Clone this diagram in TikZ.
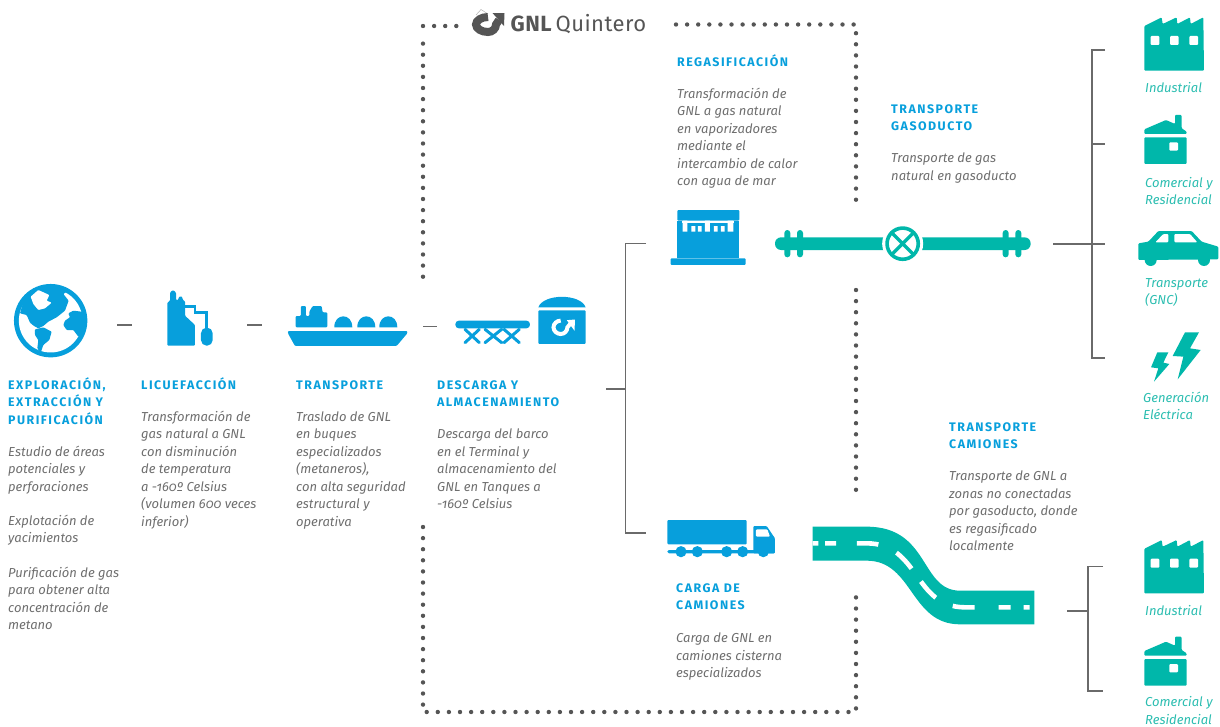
\documentclass[tikz,border=0pt]{standalone}
\usepackage{fontspec}
\setmainfont{Fira Sans}[Numbers=Lowercase]
\newfontfamily\ttlfont{Fira Sans}[LetterSpace=12,Numbers=Lowercase]
\newfontfamily\logofont{Fira Sans}[LetterSpace=2]
\definecolor{bl}{HTML}{079FDC}
\definecolor{te}{HTML}{00B7AA}
\definecolor{tg}{HTML}{2BBDB0}
\definecolor{gt}{HTML}{6E6E6E}
\definecolor{ln}{HTML}{6A6A6A}
\definecolor{dt}{HTML}{555555}
\newcommand\ls{\rule{0pt}{13pt}}
\tikzset{
 bodytext/.style={anchor=north west,inner sep=0pt,yshift=8pt,align=left,text=gt,
   font=\fontsize{13.0}{17.5}\selectfont\itshape},
 titletext/.style={anchor=north west,inner sep=0pt,yshift=8pt,align=left,text=bl,
   font=\fontsize{12.4}{17.5}\selectfont\ttlfont\bfseries},
 lbltext/.style={bodytext,text=tg},
 conn/.style={draw=ln,line width=1.1pt},
 dots/.style={draw=dt,line width=4.4pt,line cap=round,dash pattern=on 0pt off 11.1pt},
 blu/.style={fill=bl,rounded corners=1pt},
 tea/.style={fill=te,rounded corners=1pt},
 wht/.style={fill=white,rounded corners=1pt},
}
\begin{document}
\begin{tikzpicture}[x=1pt,y=-1pt]
\useasboundingbox (0,0) rectangle (1220,726);
% dotted frame
\draw[dots] (423,26) -- (457,26);
\draw[dots] (423,276.7) -- (423,43);
\draw[dots] (676,24.5) -- (856,24.5) -- (856,205);
\draw[dots] (856,290) -- (856,490);
\draw[dots] (423,527) -- (423,712) -- (856,712) -- (856,592.7);
% logo
\draw[draw=dt!45,line width=.5pt] (476,15) -- (481,9.5) -- (488,14);
\draw[dt,line width=8pt] (488,17) .. controls (481.4,17) and (476,20.4) .. (476,24.5)
  .. controls (476,28.6) and (481.4,32) .. (488,32)
  .. controls (492.4,32) and (496,28.6) .. (496,24.5) -- (499,20);
\fill[dt] (492.5,13) -- (504.5,13) -- (504,26) -- cycle;
\node[anchor=base west,inner sep=0pt,text=dt,font=\fontsize{22}{22}\selectfont\logofont\bfseries] (logoa) at (510.5,31) {GNL};
\node[anchor=base west,inner sep=0pt,text=dt,font=\fontsize{22}{22}\selectfont\logofont] (logob) at (555.5,31) {Quintero};
% globe
\begin{scope}[shift={(10,280)},x=.3333pt,y=-.3333pt]
\fill[bl] (122,122) circle[radius=36.7pt];
\fill[white] (122,122) circle[radius=31.8pt];
\fill[bl,rounded corners=.8pt] (30,100)--(50,105)--(60,128)--(72,138)--(85,145)--(100,138)--(115,125)--(140,112)--(165,92)--(176,62)--(160,42)--(178,30)--(120,15)--(70,25)--(40,65)--(30,100)--cycle;
\fill[white,rounded corners=.8pt] (62,50)--(85,30)--(118,45)--(110,62)--(125,68)--(105,85)--(85,90)--(70,72)--cycle;
\fill[bl,rounded corners=.8pt] (75,148)--(100,142)--(125,155)--(118,180)--(100,195)--(92,218)--(82,205)--(85,180)--(75,165)--cycle;
\fill[bl,rounded corners=.8pt] (165,122)--(180,112)--(175,100)--(190,92)--(215,95)--(228,115)--(225,150)--(205,170)--(190,150)--(170,150)--(160,135)--cycle;
\end{scope}
% liquefaction
\begin{scope}[shift={(160,285)},x=.3333pt,y=-.3333pt]
\draw[bl,line width=2.6pt] (70,65) -- (105,65) -- (105,82) -- (140,82) -- (140,130);
\fill[blu] (22,52)--(30,48)--(30,22)--(39,15)--(48,22)--(48,45)--(55,45)--(55,38)--(62,33)--(68,38)--(68,45)--(75,48)--(75,92)--(105,120)--(105,182)--(22,182)--cycle;
\fill[bl,rounded corners=5.5pt] (123,128) rectangle (158,182);
\end{scope}
% ship
\begin{scope}[shift={(0,270)},x=.3333pt,y=-.3333pt]
\fill[blu] (864,183)--(1222,183)--(1222,190)--(1190,228)--(885,228)--(864,190)--cycle;
\fill[blu] (887,138)--(903,138)--(903,108)--(918,108)--(918,138)--(928,138)--(928,125)--(938,108)--(965,108)--(968,127)--(982,127)--(982,172)--(887,172)--cycle;
\foreach \c in {1030,1099,1165}{
 \fill[bl] (\c-27,172) .. controls (\c-27,150) and (\c-14,139) .. (\c,139) .. controls (\c+14,139) and (\c+27,150) .. (\c+27,172) -- cycle;}
\end{scope}
% jetty and tank
\begin{scope}[shift={(420,200)},x=.3333pt,y=-.3333pt]
\draw[bl,line width=3pt,line cap=round] (135,428)--(178,388) (135,388)--(178,428)
 (195,428)--(245,388) (195,388)--(245,428) (252,428)--(298,388) (252,388)--(298,428);
\fill[bl,rounded corners=3.5pt] (106,362) rectangle (330,385);
\fill[bl] (355,322) .. controls (370,280) and (482,280) .. (497,322) -- cycle;
\fill[blu] (355,331) rectangle (497,432);
\end{scope}
\draw[white,line width=4pt] (560.7,320.6) .. controls (557,320.6) and (553.5,323.6) .. (553.5,327.3)
 .. controls (553.5,331) and (557,334) .. (560.7,334) .. controls (564.4,334) and (567.4,331) .. (567.4,327.3) -- (571,323);
\fill[white] (566.8,320.2)--(575,319.5)--(574.5,330.7)--cycle;
% regasification plant
\begin{scope}[shift={(420,200)},x=.3333pt,y=-.3333pt]
\fill[blu] (772,30) rectangle (958,62);
\fill[bl] (772,62) rectangle (958,175);
\fill[blu] (752,175) rectangle (977,195);
\fill[white] (785,62) rectangle (942,68);
\fill[white] (788,62) rectangle (802,95) (855,62) rectangle (870,95) (923,62) rectangle (940,95);
\fill[white] (814,78) rectangle (826,95) (834,78) rectangle (845,95) (882,78) rectangle (893,95) (903,78) rectangle (914,95);
\end{scope}
% pipeline
\begin{scope}[shift={(760,200)},x=.3333pt,y=-.3333pt]
\fill[te,rounded corners=6pt] (45,112) rectangle (812,150);
\foreach \f in {82,120,737,775}{\fill[te,rounded corners=3pt] (\f-9,90) rectangle (\f+9,172);}
\fill[white] (428,131) circle[radius=20.5pt];
\draw[te,line width=3.6pt] (428,131) circle[radius=15.6pt];
\draw[te,line width=3.3pt] (393,96)--(463,166) (393,166)--(463,96);
\end{scope}
% factory 1
\foreach \dy/\nm in {0/fa,522.7/fb}{
\begin{scope}[shift={(1080,\dy)},x=.3333pt,y=-.3333pt]
\fill[tea] (193,78)--(245,52)--(248,72)--(290,52)--(292,72)--(330,52)--(332,72)--(370,52)--(372,212)--(193,212)--cycle;
\foreach \w in {212,270,328}{\fill[wht] (\w,108) rectangle (\w+26,135);}
\end{scope}}
% house
\foreach \dy in {0,521.7}{
\begin{scope}[shift={(1080,\dy)},x=.3333pt,y=-.3333pt]
\fill[tea] (193,402)--(193,388)--(258,360)--(285,372)--(285,345)--(305,345)--(305,385)--(320,395)--(320,402)--cycle;
\fill[tea] (193,412) rectangle (320,492);
\fill[wht] (268,427) rectangle (294,452);
\end{scope}}
% car and bolts
\begin{scope}[shift={(1080,210)},x=.3333pt,y=-.3333pt]
\fill[tea] (175,100)--(205,95)--(235,63)--(335,63)--(365,95)--(415,110)--(415,148)--(175,150)--cycle;
\fill[te] (212,150) circle[radius=6pt] (372,150) circle[radius=6pt];
\fill[wht] (226,97)--(250,72)--(265,72)--(265,97)--cycle;
\fill[wht] (283,72)--(330,72)--(352,97)--(283,97)--cycle;
\fill[te] (315,367)--(357,367)--(330,415)--(362,420)--(293,508)--(310,440)--(278,438)--cycle;
\fill[te] (232,427)--(265,427)--(250,458)--(268,462)--(222,515)--(235,475)--(213,472)--cycle;
\end{scope}
% truck and road
\begin{scope}[shift={(650,500)},x=.3333pt,y=-.3333pt]
\fill[blu] (52,60) rectangle (290,133);
\fill[blu] (310,78)--(350,78)--(375,115)--(375,160)--(310,160)--cycle;
\fill[wht] (318,88)--(352,88)--(360,110)--(318,110)--cycle;
\fill[bl,rounded corners=1.5pt] (52,150) rectangle (375,160);
\foreach \w in {93,142,230,278,340}{\fill[bl] (\w,155) circle[radius=5.6pt];}
\fill[te] (488,80) -- (650,80) .. controls (840,80) and (810,272) .. (930,272) -- (1153,272) -- (1153,373) -- (930,373) .. controls (780,373) and (790,182) .. (650,182) -- (488,182) -- cycle;
\draw[white,line width=4.6pt,dash pattern=on 5.7pt off 6.7pt on 11pt off 20.7pt on 21.7pt off 20pt on 22pt off 16pt on 22pt off 19pt on 22pt off 24pt on 12pt off 13pt on 6pt off 100pt]
 (488,130) -- (650,130) .. controls (810,130) and (790,322) .. (945,322) -- (1153,322);
\end{scope}
% connectors
\coordinate (c1a) at (117,325); \coordinate (c1b) at (132,325);
\coordinate (c2a) at (247,325); \coordinate (c2b) at (262,325);
\coordinate (c3a) at (423,326.5); \coordinate (c3b) at (437,326.5);
\coordinate (bra) at (606,389); \coordinate (brm) at (625.5,389);
\coordinate (brt) at (646,243.5); \coordinate (brb) at (646,533);
\coordinate (gaa) at (1053,244); \coordinate (gam) at (1092,244); \coordinate (gab) at (1105,244);
\coordinate (gat) at (1105,50); \coordinate (gac) at (1105,144); \coordinate (gad) at (1105,358);
\coordinate (caa) at (1067,611); \coordinate (cam) at (1088,611);
\coordinate (cat) at (1103,566.5); \coordinate (cad) at (1103,691);
\draw[conn] (c1a) -- (c1b);
\draw[conn] (c2a) -- (c2b);
\draw[conn] (c3a) -- (c3b);
\draw[conn] (bra) -- (brm);
\draw[conn] (brt) -| (brm) |- (brb);
\draw[conn] (gaa) -- (gab);
\draw[conn] (gat) -| (gam) |- (gad);
\draw[conn] (gam |- gac) -- (gac);
\draw[conn] (caa) -- (cam);
\draw[conn] (cat) -| (cam) |- (cad);
% texts
\node[titletext] (t1) at (8,384) {\ls EXPLORACIÓN,\\EXTRACCIÓN Y\\PURIFICACIÓN};
\node[bodytext] (b1a) at (8,451) {\ls Estudio de áreas\\potenciales y\\perforaciones};
\node[bodytext] (b1b) at (8,520) {\ls Explotación de\\yacimientos};
\node[bodytext] (b1c) at (8,572) {\ls Purificación de gas\\para obtener alta\\concentración de\\metano};
\node[titletext] (t2) at (141,384) {\ls LICUEFACCIÓN};
\node[bodytext] (b2) at (141,416) {\ls Transformación de\\gas natural a GNL\\con disminución\\de temperatura\\a -160º Celsius\\(volumen 600 veces\\inferior)};
\node[titletext] (t3) at (296,384) {\ls TRANSPORTE};
\node[bodytext] (b3) at (296,416) {\ls Traslado de GNL\\en buques\\especializados\\(metaneros),\\con alta seguridad\\estructural y\\operativa};
\node[titletext] (t4) at (437,384) {\ls DESCARGA Y\\ALMACENAMIENTO};
\node[bodytext] (b4) at (437,433.5) {\ls Descarga del barco\\en el Terminal y\\almacenamiento del\\GNL en Tanques a\\-160º Celsius};
\node[titletext] (t5) at (677,61) {\ls REGASIFICACIÓN};
\node[bodytext] (b5) at (677,93) {\ls Transformación de\\GNL a gas natural\\en vaporizadores\\mediante el\\intercambio de calor\\con agua de mar};
\node[titletext] (t6) at (891,108) {\ls TRANSPORTE\\GASODUCTO};
\node[bodytext] (b6) at (891,157.5) {\ls Transporte de gas\\natural en gasoducto};
\node[titletext] (t7) at (949,426) {\ls TRANSPORTE\\CAMIONES};
\node[bodytext] (b7) at (949,475.5) {\ls Transporte de GNL a\\zonas no conectadas\\por gasoducto, donde\\es regasificado\\localmente};
\node[titletext] (t8) at (676,587) {\ls CARGA DE\\CAMIONES};
\node[bodytext] (b8) at (676,637.5) {\ls Carga de GNL en\\camiones cisterna\\especializados};
\node[lbltext] (l1) at (1145,87) {\ls Industrial};
\node[lbltext] (l2) at (1145,182) {\ls Comercial y\\Residencial};
\node[lbltext] (l3) at (1145,282) {\ls Transporte\\(GNC)};
\node[lbltext] (l4) at (1143,397) {\ls Generación\\Eléctrica};
\node[lbltext] (l5) at (1145,610) {\ls Industrial};
\node[lbltext] (l6) at (1145,701.5) {\ls Comercial y\\Residencial};
\end{tikzpicture}
\end{document}
